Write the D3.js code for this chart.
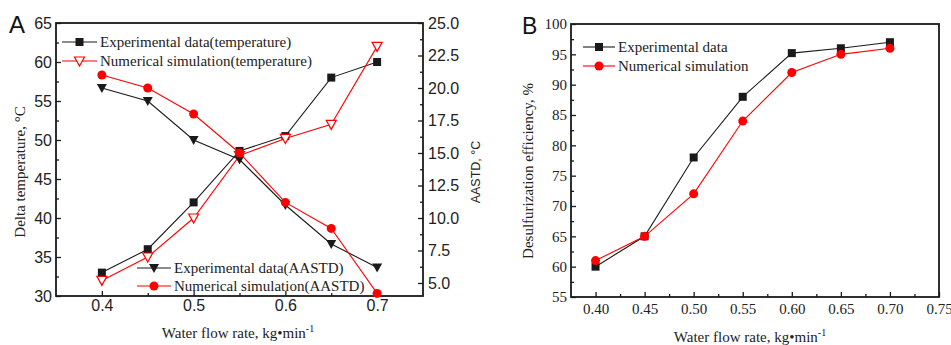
<!DOCTYPE html>
<html>
<head>
<meta charset="utf-8">
<script src="https://cdn.jsdelivr.net/npm/d3@7"></script>
<style>
  body { margin: 0; background: #fff; }
  svg { display: block; }
  .serif { font-family: "Liberation Serif", "DejaVu Serif", serif; }
  .sans { font-family: "Liberation Sans", Arial, sans-serif; }
</style>
</head>
<body>
<div id="chart"></div>
<script>
// data
var flowA = [0.40, 0.45, 0.50, 0.55, 0.60, 0.65, 0.70];
var expTemp = [33, 36, 42, 48.6, 50.5, 58, 60];
var numTemp = [32, 35, 40, 48, 50.2, 52, 62];
var expAastd = [20.0, 19.0, 16.0, 14.5, 11.0, 8.0, 6.2];
var numAastd = [21.0, 20.0, 18.0, 15.0, 11.2, 9.2, 4.2];

var flowB = [0.40, 0.45, 0.50, 0.55, 0.60, 0.65, 0.70];
var expEff = [60, 65, 78, 88, 95.2, 96, 97];
var numEff = [61, 65, 72, 84, 92, 95, 96];

var xTicksA = [0.4, 0.5, 0.6, 0.7];
var xTicksB = [0.40, 0.45, 0.50, 0.55, 0.60, 0.65, 0.70, 0.75];

var svgWidth = 951;
var svgHeight = 345;

var svg = d3.select("#chart")
    .append("svg")
    .attr("width", svgWidth)
    .attr("height", svgHeight);

var RED = "#ff0000";
var BLACK = "#1a1a1a";

// marker shapes
var downTri = "M-5,-4L5,-4L0,5Z";
function marker(g, type, color) {
    if (type == "square") {
        g.append("rect").attr("x", -4).attr("y", -4).attr("width", 8).attr("height", 8).attr("fill", color);
    } else if (type == "circle") {
        g.append("circle").attr("r", 4.5).attr("fill", color);
    } else if (type == "tri") {
        g.append("path").attr("d", downTri).attr("fill", color);
    } else if (type == "openTri") {
        g.append("path").attr("d", downTri).attr("fill", "#fff").attr("stroke", color).attr("stroke-width", 1.2);
    }
}

function drawSeries(xs, ys, x, y, color, type) {
    var pts = xs.map((d, i) => [x(d), y(ys[i])]);
    svg.append("path")
        .attr("d", d3.line()(pts))
        .attr("fill", "none")
        .attr("stroke", color)
        .attr("stroke-width", 1.1);
    svg.append("g")
        .selectAll("g")
        .data(pts)
        .enter()
        .append("g")
        .attr("transform", d => `translate(${d[0]},${d[1]})`)
        .each(function () { marker(d3.select(this), type, color); });
}

function legendRow(x1, x2, y, color, type, label) {
    svg.append("line")
        .attr("x1", x1).attr("x2", x2).attr("y1", y).attr("y2", y)
        .attr("stroke", color).attr("stroke-width", 1.1);
    marker(svg.append("g").attr("transform", `translate(${(x1 + x2) / 2},${y})`), type, color);
    svg.append("text")
        .attr("class", "serif")
        .attr("x", x2 + 3)
        .attr("y", y)
        .attr("dy", "0.35em")
        .attr("font-size", 15)
        .attr("fill", "#222")
        .text(label);
}

function styleAxis(g) {
    g.select(".domain").remove();
    g.selectAll("line").attr("stroke", BLACK).attr("stroke-width", 1.3);
    g.selectAll("text").attr("fill", "#222");
}

function frame(x0, y0, x1, y1) {
    svg.append("rect")
        .attr("x", x0).attr("y", y0)
        .attr("width", x1 - x0).attr("height", y1 - y0)
        .attr("fill", "none")
        .attr("stroke", BLACK)
        .attr("stroke-width", 1.8);
}

// ================= Panel A =================
var xA = d3.scaleLinear().domain([0.35, 0.75]).range([56, 423]);
var yL = d3.scaleLinear().domain([30, 65]).range([296, 23]);
var yR = d3.scaleLinear().domain([4, 25]).range([296, 23]);

// minor ticks
svg.append("g").attr("transform", "translate(0,296)")
    .call(d3.axisBottom(xA).tickValues([0.45, 0.55, 0.65]).tickSizeInner(-3).tickSizeOuter(0).tickFormat(""))
    .call(styleAxis);
svg.append("g").attr("transform", "translate(56,0)")
    .call(d3.axisLeft(yL).tickValues(d3.range(32.5, 65, 5)).tickSizeInner(-3).tickSizeOuter(0).tickFormat(""))
    .call(styleAxis);
svg.append("g").attr("transform", "translate(423,0)")
    .call(d3.axisRight(yR).tickValues(d3.range(6.25, 25, 2.5)).tickSizeInner(-3).tickSizeOuter(0).tickFormat(""))
    .call(styleAxis);

// major ticks
svg.append("g").attr("transform", "translate(0,296)")
    .attr("class", "sans")
    .call(d3.axisBottom(xA).tickValues(xTicksA).tickSizeInner(-5).tickSizeOuter(0).tickPadding(4).tickFormat(d3.format(".1f")))
    .call(styleAxis)
    .selectAll("text").attr("font-size", 16).attr("font-family", "Liberation Sans, Arial, sans-serif");
svg.append("g").attr("transform", "translate(56,0)")
    .call(d3.axisLeft(yL).tickValues(d3.range(30, 66, 5)).tickSizeInner(-5).tickSizeOuter(0).tickPadding(4))
    .call(styleAxis)
    .selectAll("text").attr("font-size", 16).attr("font-family", "Liberation Sans, Arial, sans-serif");
svg.append("g").attr("transform", "translate(423,0)")
    .call(d3.axisRight(yR).tickValues(d3.range(5, 25.1, 2.5)).tickSizeInner(-5).tickSizeOuter(0).tickPadding(5).tickFormat(d3.format(".1f")))
    .call(styleAxis)
    .selectAll("text").attr("font-size", 16).attr("font-family", "Liberation Sans, Arial, sans-serif");

frame(56, 23, 423, 296);

drawSeries(flowA, expTemp, xA, yL, BLACK, "square");
drawSeries(flowA, numTemp, xA, yL, RED, "openTri");
drawSeries(flowA, expAastd, xA, yR, BLACK, "tri");
drawSeries(flowA, numAastd, xA, yR, RED, "circle");

legendRow(62, 97, 42, BLACK, "square", "Experimental data(temperature)");
legendRow(62, 97, 61, RED, "openTri", "Numerical simulation(temperature)");
legendRow(137, 171, 268, BLACK, "tri", "Experimental data(AASTD)");
legendRow(137, 171, 286, RED, "circle", "Numerical simulation(AASTD)");

svg.append("text").attr("class", "sans")
    .attr("x", 9).attr("y", 33)
    .attr("font-size", 24).attr("fill", "#111")
    .text("A");

svg.append("text").attr("class", "serif")
    .attr("transform", "translate(25,172) rotate(-90)")
    .attr("text-anchor", "middle")
    .attr("font-size", 15).attr("fill", "#222")
    .text("Delta temperature, °C");

svg.append("text").attr("class", "sans")
    .attr("transform", "translate(480,172) rotate(-90)")
    .attr("text-anchor", "middle")
    .attr("font-size", 12.5).attr("fill", "#222")
    .text("AASTD, °C");

var titleA = svg.append("text").attr("class", "serif")
    .attr("x", 238).attr("y", 338)
    .attr("text-anchor", "middle")
    .attr("font-size", 15).attr("fill", "#222");
titleA.append("tspan").text("Water flow rate, kg•min");
titleA.append("tspan").attr("dy", -6).attr("font-size", 10).text("-1");

// ================= Panel B =================
var xB = d3.scaleLinear().domain([0.375, 0.75]).range([571, 939]);
var yB = d3.scaleLinear().domain([55, 100]).range([297, 24]);

svg.append("g").attr("transform", "translate(0,297)")
    .call(d3.axisBottom(xB).tickValues(d3.range(0.425, 0.75, 0.05)).tickSizeInner(-3).tickSizeOuter(0).tickFormat(""))
    .call(styleAxis);
svg.append("g").attr("transform", "translate(571,0)")
    .call(d3.axisLeft(yB).tickValues(d3.range(57.5, 100, 5)).tickSizeInner(-3).tickSizeOuter(0).tickFormat(""))
    .call(styleAxis);

svg.append("g").attr("transform", "translate(0,297)")
    .call(d3.axisBottom(xB).tickValues(xTicksB).tickSizeInner(-5).tickSizeOuter(0).tickPadding(6).tickFormat(d3.format(".2f")))
    .call(styleAxis)
    .selectAll("text").attr("font-size", 15).attr("font-family", "Liberation Serif, serif");
svg.append("g").attr("transform", "translate(571,0)")
    .call(d3.axisLeft(yB).tickValues(d3.range(55, 101, 5)).tickSizeInner(-5).tickSizeOuter(0).tickPadding(4))
    .call(styleAxis)
    .selectAll("text").attr("font-size", 15).attr("font-family", "Liberation Serif, serif");

frame(571, 24, 939, 297);

drawSeries(flowB, expEff, xB, yB, BLACK, "square");
drawSeries(flowB, numEff, xB, yB, RED, "circle");

legendRow(583, 615, 47, BLACK, "square", "Experimental data");
legendRow(583, 615, 66, RED, "circle", "Numerical simulation");

svg.append("text").attr("class", "sans")
    .attr("x", 522).attr("y", 34)
    .attr("font-size", 23).attr("fill", "#111")
    .text("B");

svg.append("text").attr("class", "serif")
    .attr("transform", "translate(533,171) rotate(-90)")
    .attr("text-anchor", "middle")
    .attr("font-size", 15).attr("fill", "#222")
    .text("Desulfurization efficiency, %");

var titleB = svg.append("text").attr("class", "serif")
    .attr("x", 750).attr("y", 342)
    .attr("text-anchor", "middle")
    .attr("font-size", 15).attr("fill", "#222");
titleB.append("tspan").text("Water flow rate, kg•min");
titleB.append("tspan").attr("dy", -6).attr("font-size", 10).text("-1");
</script>
</body>
</html>
